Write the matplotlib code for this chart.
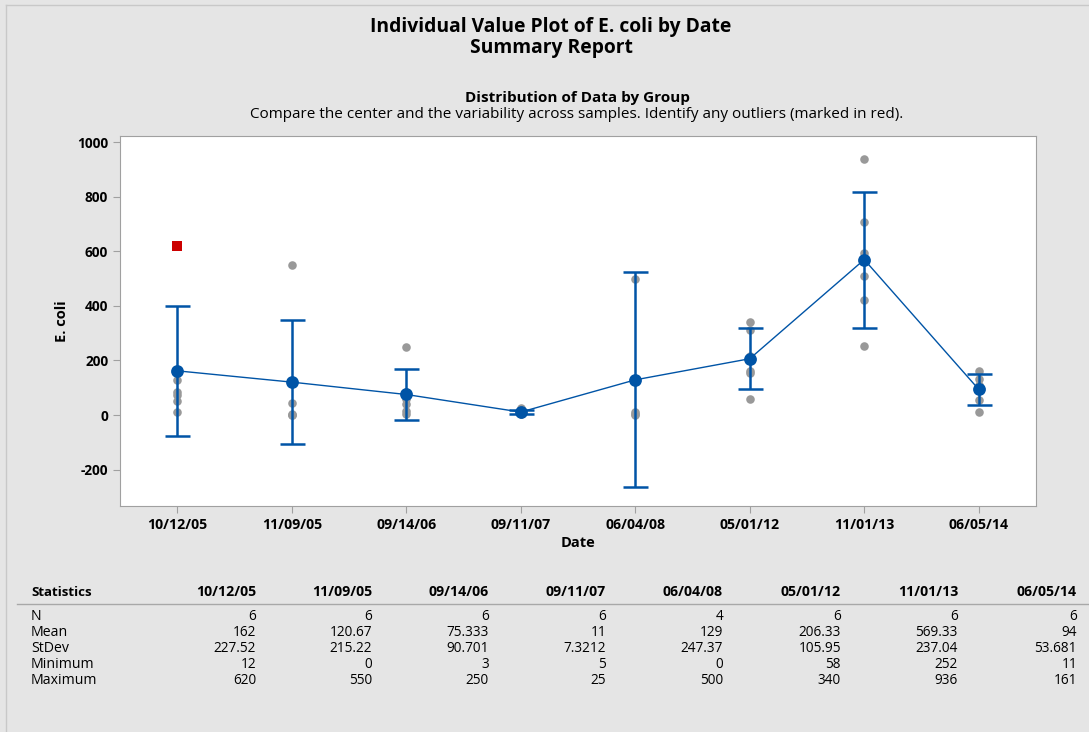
import numpy as np
import matplotlib
matplotlib.use("Agg")
import matplotlib.pyplot as plt
from matplotlib.lines import Line2D

plt.rcParams['font.family'] = ['Open Sans', 'DejaVu Sans']
plt.rcParams['axes.unicode_minus'] = False

dates = ["10/12/05", "11/09/05", "09/14/06", "09/11/07",
         "06/04/08", "05/01/12", "11/01/13", "06/05/14"]

# individual E. coli values per date
values = [
    [12, 52, 75, 85, 128, 620],
    [0, 0, 5, 46, 123, 550],
    [3, 14, 40, 60, 85, 250],
    [5, 6, 8, 10, 12, 25],
    [0, 5, 11, 500],
    [58, 155, 160, 215, 310, 340],
    [252, 420, 508, 592, 708, 936],
    [11, 55, 96, 110, 131, 161],
]
outliers = [(0, 620)]  # (group index, value) marked in red

n_obs = [6, 6, 6, 6, 4, 6, 6, 6]
means = [162, 120.67, 75.333, 11, 129, 206.33, 569.33, 94]
stdevs = [227.52, 215.22, 90.701, 7.3212, 247.37, 105.95, 237.04, 53.681]
minimums = [12, 0, 3, 5, 0, 58, 252, 11]
maximums = [620, 550, 250, 25, 500, 340, 936, 161]

# t critical values for 95% CI
t_crit = {6: 2.571, 4: 3.182}
ci_half = [t_crit[n] * s / np.sqrt(n) for n, s in zip(n_obs, stdevs)]

W, H = 1089, 732
fig = plt.figure(figsize=(W / 100, H / 100), dpi=100)
fig.patch.set_facecolor("#e5e5e5")

def fx(px):
    return px / W

def fy(py):
    return 1 - py / H

# panel border on top and left
fig.add_artist(Line2D([fx(6), fx(6)], [fy(5), fy(732)], color="#c8c8c8", lw=1))
fig.add_artist(Line2D([fx(6), fx(1089)], [fy(5), fy(5)], color="#c8c8c8", lw=1))

fig.text(fx(551), fy(27), "Individual Value Plot of E. coli by Date", ha="center",
         va="center", fontsize=13.9, fontweight="bold")
fig.text(fx(551), fy(48), "Summary Report", ha="center", va="center",
         fontsize=13.9, fontweight="bold")
fig.text(fx(577), fy(98), "Distribution of Data by Group", ha="center",
         va="center", fontsize=11, fontweight="bold")
fig.text(fx(577), fy(115), "Compare the center and the variability across samples. "
         "Identify any outliers (marked in red).", ha="center", va="center",
         fontsize=11)

ax = fig.add_axes([fx(120), fy(506), fx(1036) - fx(120), fy(136) - fy(506)])
ax.set_facecolor("white")

blue = "#0054a6"
x = np.arange(len(dates))

for i, vals in enumerate(values):
    normal = [v for v in vals if (i, v) not in outliers]
    ax.scatter([i] * len(normal), normal, s=38, color="#999999", zorder=2,
               linewidths=0)

for gi, v in outliers:
    ax.scatter([gi], [v], s=55, marker="s", color="#cc0000", zorder=3,
               linewidths=0)

ax.plot(x, means, color=blue, lw=1, zorder=3)
ax.errorbar(x, means, yerr=ci_half, fmt="none", ecolor=blue, elinewidth=1.8,
            capsize=9, capthick=1.8, zorder=4)
ax.scatter(x, means, s=85, color=blue, zorder=5, linewidths=0)

ax.set_xlim(-0.5, 7.5)
ax.set_ylim(-333, 1022)
ax.set_yticks([-200, 0, 200, 400, 600, 800, 1000])
ax.set_xticks(x)
ax.set_xticklabels(dates)
for spine in ax.spines.values():
    spine.set_color("#a0a0a0")
ax.tick_params(colors="#a0a0a0", labelcolor="black", length=5, width=0.8)
for lbl in ax.get_xticklabels():
    lbl.set_fontweight("bold")
    lbl.set_fontsize(10.2)
for lbl in ax.get_yticklabels():
    lbl.set_fontweight("bold")
    lbl.set_fontsize(9.8)
ax.set_xlabel("Date", fontsize=10.5, fontweight="bold", labelpad=3)
ax.set_ylabel("E. coli", fontsize=10.5, fontweight="bold", labelpad=6)

# statistics table
col_right = [256, 372, 489, 606, 723, 841, 958, 1077]
fig.text(fx(31), fy(592), "Statistics", ha="left", va="center",
         fontsize=9.5, fontweight="bold")
for cx, d in zip(col_right, dates):
    fig.text(fx(cx), fy(592), d, ha="right", va="center", fontsize=10.2,
             fontweight="bold")
fig.add_artist(Line2D([fx(17), fx(1089)], [fy(604), fy(604)], color="#a8a8a8", lw=1))

rows = [
    ("N", [str(n) for n in n_obs], 617),
    ("Mean", [f"{v:.5g}" for v in means], 632),
    ("StDev", [f"{v:.5g}" for v in stdevs], 648),
    ("Minimum", [f"{v:.5g}" for v in minimums], 664),
    ("Maximum", [f"{v:.5g}" for v in maximums], 680),
]
for name, cells, ry in rows:
    fig.text(fx(31), fy(ry), name, ha="left", va="center", fontsize=10.2)
    for cx, c in zip(col_right, cells):
        fig.text(fx(cx), fy(ry), c, ha="right", va="center", fontsize=9.8)

fig.savefig("out.png", dpi=100, facecolor=fig.get_facecolor())
